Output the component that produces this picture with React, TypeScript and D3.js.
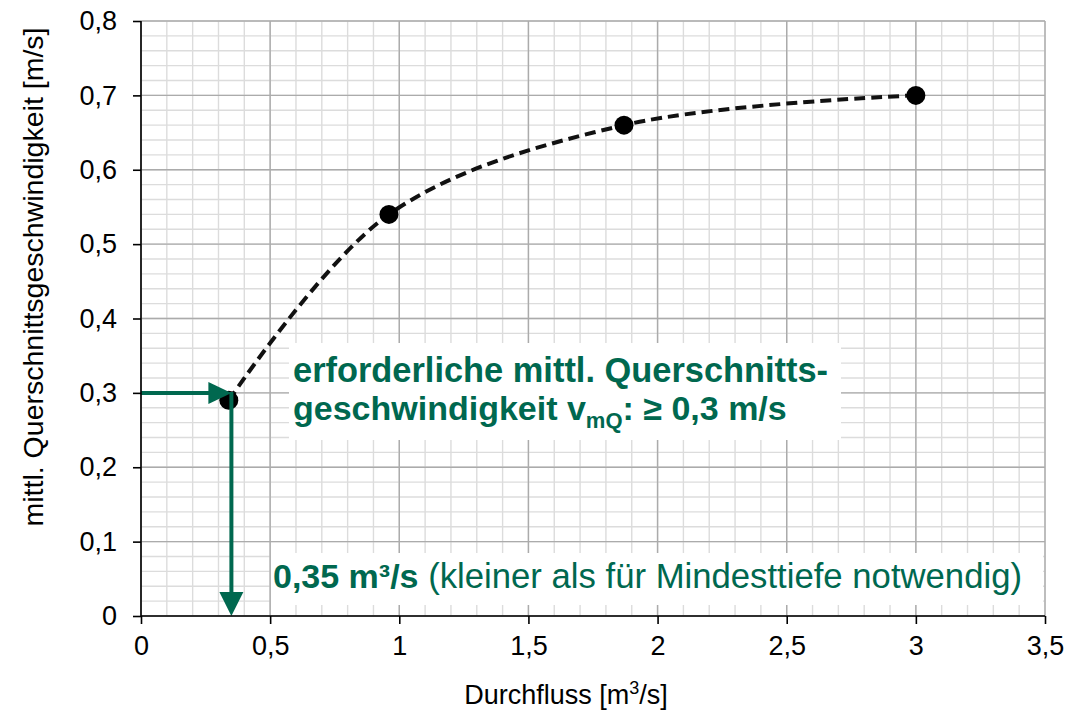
import { useRef, useEffect } from "react";
import * as d3 from "d3";

const FONT = "'Liberation Sans', Arial, sans-serif";
const GREEN = "#00684f";

// Messpunkte
const flowValues = [0.34, 0.96, 1.87, 3.0];
const velocityValues = [0.29, 0.54, 0.66, 0.7];

const xTickValues = [0, 0.5, 1, 1.5, 2, 2.5, 3, 3.5];
const yTickValues = [0, 0.1, 0.2, 0.3, 0.4, 0.5, 0.6, 0.7, 0.8];

const requiredVelocity = 0.3;
const resultFlow = 0.35;

const W = 1078;
const H = 711;

const fmt = (v: number) => (v === 0 ? "0" : String(+v.toFixed(2)).replace(".", ","));

export default function App() {
  const ref = useRef<HTMLDivElement>(null);

  useEffect(() => {
    document.body.style.margin = "0";
    if (!ref.current) return;
    const container = ref.current;
    container.innerHTML = "";

    const mg = { t: 21, r: 1045, b: 616, l: 141 };
    const pts = flowValues.map((q, i) => ({ q, v: velocityValues[i] }));

    const svg = d3
      .select(container)
      .append("svg")
      .attr("width", W)
      .attr("height", H)
      .style("display", "block")
      .style("background", "#fff");

    const x = d3.scaleLinear().domain([0, 3.5]).range([mg.l, mg.r]);
    const y = d3.scaleLinear().domain([0, 0.8]).range([mg.b, mg.t]);

    // Hilfsgitter
    const minorX = x.ticks(35);
    const minorY = y.ticks(40);
    svg.append("g").selectAll("line").data(minorX).join("line")
      .attr("x1", (d) => x(d)).attr("x2", (d) => x(d))
      .attr("y1", mg.t).attr("y2", mg.b)
      .attr("stroke", "#dcdcdc").attr("stroke-width", 1.4);
    svg.append("g").selectAll("line").data(minorY).join("line")
      .attr("x1", mg.l).attr("x2", mg.r)
      .attr("y1", (d) => y(d)).attr("y2", (d) => y(d))
      .attr("stroke", "#dcdcdc").attr("stroke-width", 1.4);

    // Hauptgitter
    svg.append("g").selectAll("line").data(xTickValues).join("line")
      .attr("x1", (d) => x(d)).attr("x2", (d) => x(d))
      .attr("y1", mg.t).attr("y2", mg.b)
      .attr("stroke", "#ababab").attr("stroke-width", 1.4);
    svg.append("g").selectAll("line").data(yTickValues).join("line")
      .attr("x1", mg.l).attr("x2", mg.r)
      .attr("y1", (d) => y(d)).attr("y2", (d) => y(d))
      .attr("stroke", "#ababab").attr("stroke-width", 1.4);

    // weiße Textfelder
    svg.append("rect").attr("x", 289).attr("y", 343).attr("width", 552).attr("height", 97).attr("fill", "#fff");
    svg.append("rect").attr("x", 271).attr("y", 553).attr("width", 772).attr("height", 52).attr("fill", "#fff");

    // Kurve (geglättet, gestrichelt)
    svg.append("path").datum(pts)
      .attr("d", d3.line<typeof pts[0]>()
        .x((d) => x(d.q)).y((d) => y(d.v))
        .curve(d3.curveCatmullRom.alpha(0.5)))
      .attr("fill", "none").attr("stroke", "#111")
      .attr("stroke-width", 4).attr("stroke-dasharray", "11,6");

    svg.append("g").selectAll("circle").data(pts).join("circle")
      .attr("cx", (d) => x(d.q)).attr("cy", (d) => y(d.v))
      .attr("r", 9.5).attr("fill", "#000");

    // Pfeile
    const ax = x(resultFlow);
    const ay = y(requiredVelocity);
    svg.append("line")
      .attr("x1", mg.l).attr("x2", ax - 20).attr("y1", ay).attr("y2", ay)
      .attr("stroke", GREEN).attr("stroke-width", 4);
    svg.append("path")
      .attr("d", `M${ax},${ay} L${ax - 23},${ay - 11} L${ax - 23},${ay + 11} Z`)
      .attr("fill", GREEN);
    svg.append("line")
      .attr("x1", ax).attr("x2", ax).attr("y1", ay - 1).attr("y2", mg.b - 20)
      .attr("stroke", GREEN).attr("stroke-width", 4);
    svg.append("path")
      .attr("d", `M${ax},${mg.b} L${ax - 12},${mg.b - 24} L${ax + 12},${mg.b - 24} Z`)
      .attr("fill", GREEN);

    // Beschriftung
    svg.append("text")
      .attr("x", 293).attr("y", 382)
      .attr("font-family", FONT).attr("font-size", 34.4).attr("font-weight", "bold").attr("fill", GREEN)
      .text("erforderliche mittl. Querschnitts-");
    const l2 = svg.append("text")
      .attr("x", 293).attr("y", 420)
      .attr("font-family", FONT).attr("font-size", 34).attr("font-weight", "bold").attr("fill", GREEN);
    l2.append("tspan").text("geschwindigkeit v");
    l2.append("tspan").attr("font-size", 22).attr("dy", 8).text("mQ");
    l2.append("tspan").attr("dy", -8).text(": \u2265 0,3 m/s");

    const t3 = svg.append("text")
      .attr("x", 273).attr("y", 588)
      .attr("font-family", FONT).attr("font-size", 34.7).attr("fill", GREEN);
    t3.append("tspan").attr("font-weight", "bold").attr("font-size", 34).text("0,35 m\u00b3/s");
    t3.append("tspan").text(" (kleiner als f\u00fcr Mindesttiefe notwendig)");

    // Achsen
    svg.append("g")
      .attr("transform", `translate(0,${mg.b})`)
      .call(d3.axisBottom(x).tickValues(xTickValues).tickSize(8).tickPadding(12).tickFormat((d) => fmt(d as number)))
      .call((g) => g.select(".domain").attr("stroke", "#000").attr("stroke-width", 1.6).attr("d", `M${mg.l},0H${mg.r}`))
      .call((g) => g.selectAll(".tick line").attr("stroke", "#000").attr("stroke-width", 1.6))
      .selectAll("text")
      .attr("fill", "#000").attr("font-size", 27).attr("font-family", FONT);

    svg.append("g")
      .attr("transform", `translate(${mg.l},0)`)
      .call(d3.axisLeft(y).tickValues(yTickValues).tickSize(8).tickPadding(16).tickFormat((d) => fmt(d as number)))
      .call((g) => g.select(".domain").attr("stroke", "#000").attr("stroke-width", 1.6).attr("d", `M0,${mg.t}V${mg.b}`))
      .call((g) => g.selectAll(".tick line").attr("stroke", "#000").attr("stroke-width", 1.6))
      .selectAll("text")
      .attr("fill", "#000").attr("font-size", 27).attr("font-family", FONT);

    const xt = svg.append("text")
      .attr("x", 566).attr("y", 704).attr("text-anchor", "middle")
      .attr("font-family", FONT).attr("font-size", 27).attr("fill", "#000");
    xt.append("tspan").text("Durchfluss [m");
    xt.append("tspan").attr("font-size", 18).attr("dy", -10).text("3");
    xt.append("tspan").attr("dy", 10).text("/s]");

    svg.append("text")
      .attr("transform", `translate(43,277) rotate(-90)`)
      .attr("text-anchor", "middle")
      .attr("font-family", FONT).attr("font-size", 28.5).attr("fill", "#000")
      .text("mittl. Querschnittsgeschwindigkeit [m/s]");
  }, []);

  return <div ref={ref} style={{ width: W, height: H }} />;
}
